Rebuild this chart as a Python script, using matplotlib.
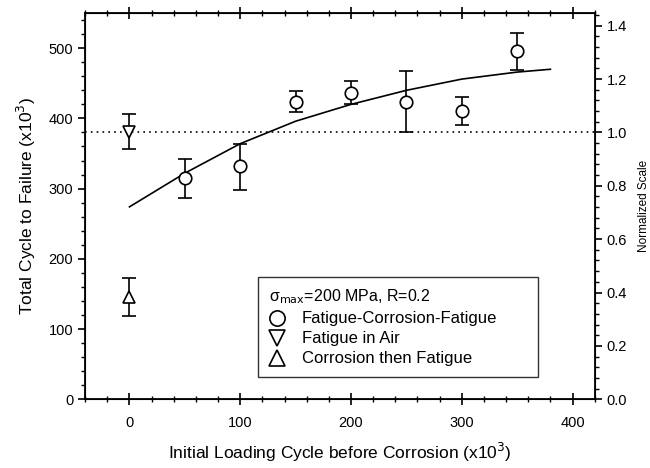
import numpy as np
import matplotlib
matplotlib.use("Agg")
import matplotlib.pyplot as plt
from matplotlib.lines import Line2D
from matplotlib.ticker import MultipleLocator

plt.rcParams["font.family"] = ["Liberation Sans", "DejaVu Sans"]

# data (cycles x10^3)
fcf_x = [50, 100, 150, 200, 250, 300, 350]
fcf_y = [315, 332, 423, 436, 423, 411, 496]
fcf_lo = [287, 298, 409, 420, 381, 391, 469]
fcf_hi = [342, 364, 439, 453, 468, 431, 521]

air_x = [0]
air_y = [381]
air_lo = [357]
air_hi = [406]

cor_x = [0]
cor_y = [146]
cor_lo = [118]
cor_hi = [172]

fit_x = [0, 50, 100, 150, 200, 250, 300, 350, 380]
fit_y = [274, 322, 364, 396, 420, 440, 456, 466, 470]

norm_ref = 380

legend_labels = ["Fatigue-Corrosion-Fatigue", "Fatigue in Air", "Corrosion then Fatigue"]
legend_markers = ["o", "v", "^"]


def draw_errorbars(ax, x, y, lo, hi, marker):
    y = np.array(y)
    yerr = [y - np.array(lo), np.array(hi) - y]
    ax.errorbar(x, y, yerr=yerr, fmt=marker, mfc="white", mec="black", ecolor="black",
                ms=9, mew=1.2, elinewidth=1.2, capsize=4.7, capthick=1.2, zorder=3)


def main():
    fig, ax = plt.subplots(figsize=(6.5, 4.68), dpi=100)
    fig.subplots_adjust(left=0.131, right=0.915, top=0.972, bottom=0.147)

    ax.plot(fit_x, fit_y, color="black", lw=1.2, zorder=2)
    ax.axhline(norm_ref, color="black", ls=(0, (1, 2.5)), lw=1.2, zorder=1)

    draw_errorbars(ax, fcf_x, fcf_y, fcf_lo, fcf_hi, "o")
    draw_errorbars(ax, air_x, air_y, air_lo, air_hi, "v")
    draw_errorbars(ax, cor_x, cor_y, cor_lo, cor_hi, "^")

    ax.set_xlim(-40, 420)
    ax.set_ylim(0, 550)
    ax.xaxis.set_major_locator(MultipleLocator(100))
    ax.xaxis.set_minor_locator(MultipleLocator(20))
    ax.yaxis.set_major_locator(MultipleLocator(100))
    ax.yaxis.set_minor_locator(MultipleLocator(20))
    ax.tick_params(axis="x", which="both", direction="inout", top=True, labelsize=10.5, pad=8)
    ax.tick_params(axis="x", which="major", length=8, width=1.2)
    ax.tick_params(axis="x", which="minor", length=4, width=1)
    ax.tick_params(axis="y", which="both", direction="out", labelsize=10.5)
    ax.tick_params(axis="y", which="major", length=5, width=1.2)
    ax.tick_params(axis="y", which="minor", length=3, width=1)
    for s in ax.spines.values():
        s.set_linewidth(1.3)

    ax.set_xlabel("Initial Loading Cycle before Corrosion (x10$^3$)", fontsize=12.5, labelpad=8)
    ax.set_ylabel("Total Cycle to Failure (x10$^3$)", fontsize=12.5, labelpad=8)

    ax2 = ax.twinx()
    ax2.set_ylim(0, 550 / norm_ref)
    ax2.set_yticks(np.arange(0, 1.41, 0.2))
    ax2.set_yticklabels([f"{v:.1f}" for v in np.arange(0, 1.41, 0.2)])
    ax2.yaxis.set_minor_locator(MultipleLocator(0.04))
    ax2.tick_params(axis="y", which="both", direction="out", labelsize=10.5)
    ax2.tick_params(axis="y", which="major", length=5, width=1.2)
    ax2.tick_params(axis="y", which="minor", length=3, width=1)
    ax2.set_ylabel("Normalized Scale", fontsize=8.5, labelpad=8)

    handles = [Line2D([], [], ls="none", marker=m, mfc="white", mec="black", ms=11, mew=1.2)
               for m in legend_markers]
    leg = ax.legend(handles, legend_labels, loc="lower left",
                    bbox_to_anchor=(0.339, 0.057, 0.549, 0.275), mode="expand",
                    title="σ$_{\\mathrm{max}}$=200 MPa, R=0.2", fontsize=12,
                    title_fontsize=11.5, frameon=True, fancybox=False, edgecolor="black",
                    handletextpad=1.0, borderpad=0.65, labelspacing=0.3, handlelength=1.0,
                    borderaxespad=0)
    leg._legend_box.align = "left"
    leg.get_frame().set_linewidth(1.0)

    fig.savefig("out.png", dpi=100)


if __name__ == "__main__":
    main()
